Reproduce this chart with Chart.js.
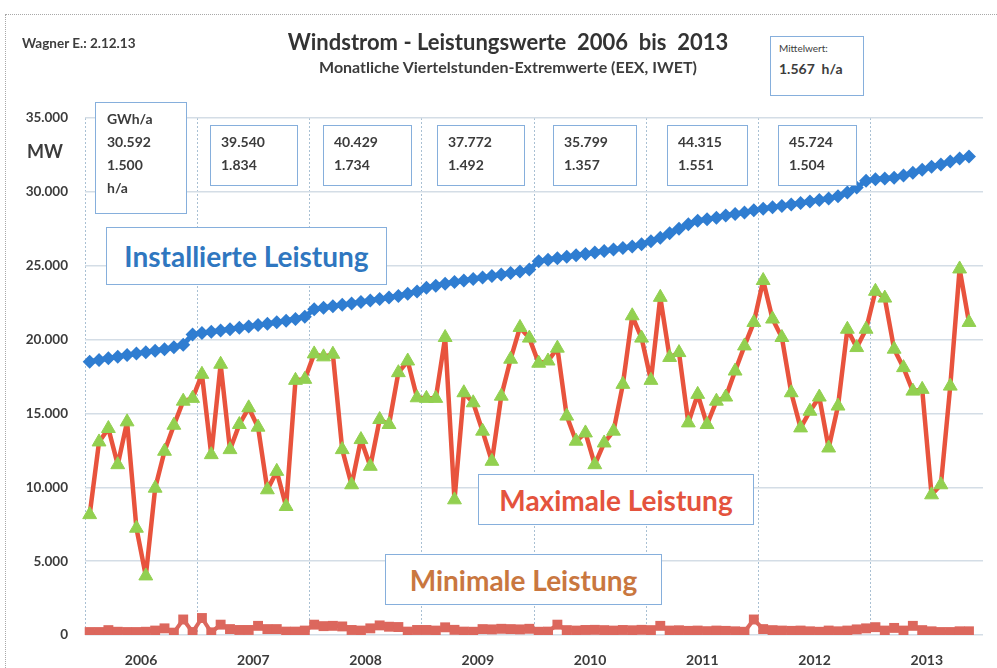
<!DOCTYPE html>
<html>
<head>
<meta charset="utf-8">
<script src="https://cdn.jsdelivr.net/npm/chart.js@4.4.1/dist/chart.umd.min.js"></script>
<style>
    body { margin: 0; background: #fff; font-family: 'Lato', 'Open Sans', sans-serif; }
    #wrap { position: relative; width: 997px; height: 668px; overflow: hidden; }
    #wrap canvas { position: absolute; left: 0; top: 0; }
    .frame { position: absolute; left: 5px; top: 14px; width: 1000px; height: 700px; border: 1px dotted #a8a8a8; }
    .txt { position: absolute; font-weight: bold; color: #3c3c3c; white-space: nowrap; }
    .box { position: absolute; background: #fff; border: 1.5px solid #86afdc; box-sizing: border-box;
           font-weight: bold; color: #3c3c3c; font-size: 14px; line-height: 23px; white-space: nowrap; }
    .big { position: absolute; background: #fff; border: 1.5px solid #86afdc; box-sizing: border-box;
           font-weight: bold; font-size: 28px; display: flex; align-items: center; justify-content: center; white-space: nowrap; }
</style>
</head>
<body>
<div id="wrap">
    <div class="frame"></div>
    <canvas id="chart" width="997" height="668"></canvas>

    <div class="txt" style="left:22px; top:35px; font-size:13.5px;">Wagner E.: 2.12.13</div>
    <div class="txt" style="left:0; width:1016px; text-align:center; top:28px; font-size:22px; color:#333;">Windstrom - Leistungswerte&nbsp; 2006&nbsp; bis&nbsp; 2013</div>
    <div class="txt" style="left:0; width:1016px; text-align:center; top:57px; font-size:16px;">Monatliche Viertelstunden-Extremwerte (EEX, IWET)</div>
    <div class="box" style="left:770px; top:36px; width:94px; height:60px; padding:3px 0 0 8px;">
        <div style="font-size:10px; line-height:16px; font-weight:normal;">Mittelwert:</div>
        <div style="font-size:14px; line-height:26px;">1.567&nbsp; h/a</div>
    </div>
    <div class="txt" style="left:27px; top:140px; font-size:18px;">MW</div>

    <div class="box" style="left:95px; top:102px; width:92px; height:112px; padding:4px 0 0 11px;">GWh/a<br>30.592<br>1.500<br>h/a</div>
    <div class="box" style="left:210px; top:125px; width:88px; height:61px; padding:4px 0 0 10px;">39.540<br>1.834</div>
    <div class="box" style="left:323px; top:125px; width:89px; height:61px; padding:4px 0 0 10px;">40.429<br>1.734</div>
    <div class="box" style="left:437px; top:125px; width:88px; height:61px; padding:4px 0 0 10px;">37.772<br>1.492</div>
    <div class="box" style="left:553px; top:125px; width:84px; height:61px; padding:4px 0 0 10px;">35.799<br>1.357</div>
    <div class="box" style="left:667px; top:125px; width:81px; height:61px; padding:4px 0 0 10px;">44.315<br>1.551</div>
    <div class="box" style="left:778px; top:125px; width:79px; height:61px; padding:4px 0 0 10px;">45.724<br>1.504</div>

    <div class="big" style="left:106px; top:227px; width:281px; height:58px; color:#2f77c0;">Installierte Leistung</div>
    <div class="big" style="left:478px; top:474px; width:276px; height:51px; color:#e4533d;">Maximale Leistung</div>
    <div class="big" style="left:385px; top:554px; width:277px; height:51px; color:#c9773f;">Minimale Leistung</div>
</div>

<script>
// Jahre auf der x-Achse, Monatswerte Jan 2006 - Nov 2013
const years = ['2006', '2007', '2008', '2009', '2010', '2011', '2012', '2013'];
const yTicks = [0, 5000, 10000, 15000, 20000, 25000, 30000, 35000];

// Installierte Leistung (MW)
const installed = [
    18500, 18620, 18730, 18840, 18950, 19050, 19150, 19250, 19350, 19480, 19650, 20350,
    20450, 20530, 20620, 20700, 20800, 20880, 20980, 21070, 21170, 21280, 21400, 21550,
    22050, 22150, 22250, 22350, 22450, 22550, 22650, 22750, 22850, 22950, 23100, 23250,
    23500, 23650, 23780, 23900, 24000, 24100, 24200, 24300, 24400, 24500, 24600, 24750,
    25300, 25400, 25500, 25600, 25700, 25800, 25900, 26000, 26100, 26200, 26300, 26450,
    26650, 26900, 27200, 27500, 27800, 28050, 28150, 28250, 28400, 28500, 28600, 28750,
    28850, 28950, 29050, 29150, 29250, 29350, 29450, 29550, 29700, 29950, 30300, 30750,
    30850, 30900, 30950, 31100, 31300, 31500, 31700, 31850, 32050, 32250, 32400
];

// Maximale Leistung (MW)
const maxPower = [
    8150, 13070, 13980, 11530, 14430, 7230, 4000, 9940, 12440, 14200, 15830, 16020,
    17650, 12210, 18330, 12550, 14250, 15380, 14070, 9830, 11080, 8700, 17240, 17310,
    19030, 18830, 19010, 12550, 10170, 13230, 11420, 14590, 14250, 17760, 18550, 16060,
    16020, 16020, 20140, 9150, 16400, 15720, 13800, 11760, 16170, 18670, 20820, 20100,
    18400, 18550, 19420, 14820, 13120, 13680, 11530, 13000, 13800, 16970, 21610, 20100,
    17240, 22860, 18790, 19120, 14360, 16290, 14250, 15830, 16110, 17870, 19570, 21160,
    24000, 21390, 20140, 16400, 14020, 15150, 16110, 12660, 15500, 20700, 19460, 20700,
    23270, 22810, 19350, 18100, 16510, 16630, 9490, 10170, 16850, 24780, 21160
];

// Minimale Leistung (MW)
const minPower = [
    200, 200, 330, 220, 200, 200, 220, 300, 450, 160, 1050, 200,
    1150, 180, 700, 400, 340, 340, 620, 400, 400, 230, 230, 300,
    700, 600, 620, 580, 340, 300, 450, 650, 560, 540, 230, 340,
    340, 300, 520, 350, 230, 220, 400, 380, 420, 400, 380, 420,
    220, 230, 700, 330, 300, 340, 350, 330, 300, 340, 320, 350,
    330, 620, 300, 320, 280, 300, 260, 300, 280, 250, 220, 1050,
    400, 330, 300, 280, 300, 250, 220, 300, 250, 300, 380, 450,
    530, 300, 480, 300, 620, 330, 250, 200, 200, 250, 250
];

const labels = [];
years.forEach(y => {
    for (let m = 1; m <= 12; m++) labels.push(y + '-' + String(m).padStart(2, '0'));
});

function fmt(v) {
    return String(v).replace(/\B(?=(\d{3})+(?!\d))/g, '.');
}

new Chart(document.getElementById('chart'), {
    type: 'line',
    data: {
        labels: labels,
        datasets: [{
            label: 'Installierte Leistung',
            data: installed,
            borderColor: '#2f7dd1',
            backgroundColor: '#2f7dd1',
            borderWidth: 5,
            borderJoinStyle: 'round',
            pointStyle: 'rectRot',
            pointRadius: 7,
            pointBorderWidth: 0,
            tension: 0
        }, {
            label: 'Maximale Leistung',
            data: maxPower,
            borderColor: '#e8533d',
            backgroundColor: '#92d050',
            borderWidth: 4.5,
            borderJoinStyle: 'round',
            borderCapStyle: 'round',
            pointStyle: 'triangle',
            pointRadius: 8,
            pointBorderColor: '#92d050',
            pointBorderWidth: 1,
            tension: 0
        }, {
            label: 'Minimale Leistung',
            data: minPower,
            borderColor: '#dc675d',
            backgroundColor: '#dc675d',
            borderWidth: 4,
            borderJoinStyle: 'round',
            pointStyle: 'rect',
            pointRadius: 7,
            pointBorderWidth: 0,
            tension: 0
        }]
    },
    options: {
        responsive: false,
        animation: false,
        layout: { padding: { top: 118, right: 14, left: 0, bottom: 0 } },
        plugins: {
            legend: { display: false },
            tooltip: { enabled: false }
        },
        scales: {
            x: {
                type: 'category',
                offset: true,
                afterFit: scale => { scale.height = 33; },
                grid: {
                    offset: true,
                    drawTicks: false,
                    lineWidth: 1,
                    color: ctx => (ctx.index % 12 === 0 ? '#a9c0d3' : 'rgba(0,0,0,0)')
                },
                border: { display: false, dash: [2, 2] },
                ticks: {
                    autoSkip: false,
                    maxRotation: 0,
                    padding: 17,
                    labelOffset: -4.7,
                    color: '#3c3c3c',
                    font: { family: 'Lato', weight: 'bold', size: 14 },
                    callback: (val, i) => (i % 12 === 6 ? years[Math.floor(i / 12)] : '')
                }
            },
            y: {
                min: yTicks[0],
                max: yTicks[yTicks.length - 1],
                afterFit: scale => { scale.width = 85; },
                afterBuildTicks: scale => { scale.ticks = yTicks.map(v => ({ value: v })); },
                grid: { color: '#d4dde6', lineWidth: 1.5, drawTicks: false },
                border: { display: false },
                ticks: {
                    padding: 17,
                    color: '#3c3c3c',
                    font: { family: 'Lato', weight: 'bold', size: 13.5 },
                    callback: v => fmt(v)
                }
            }
        }
    }
});
</script>
</body>
</html>
